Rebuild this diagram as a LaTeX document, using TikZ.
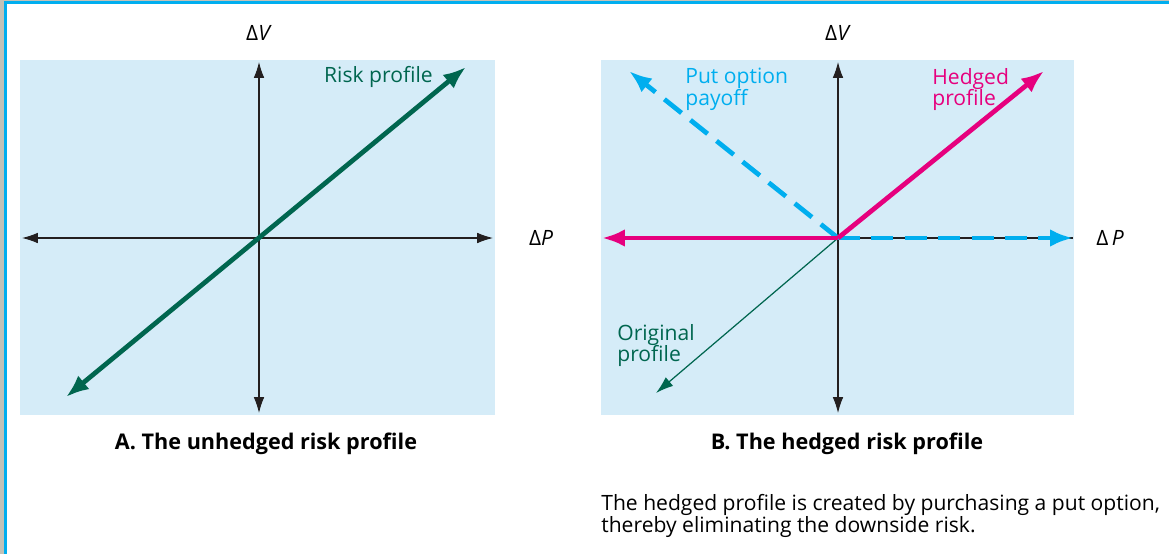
\documentclass[tikz,border=0pt]{standalone}
\usepackage{fontspec}
\setmainfont{Open Sans}
\usetikzlibrary{arrows.meta,positioning}

\definecolor{panelblue}{HTML}{D5ECF8}
\definecolor{riskgreen}{HTML}{00664F}
\definecolor{hedgepink}{HTML}{E6007E}
\definecolor{putcyan}{HTML}{00AEEF}
\definecolor{axisblack}{HTML}{231F20}
\definecolor{framegray}{HTML}{C2C2B8}

\begin{document}
\begin{tikzpicture}[
  x=0.02cm, y=-0.02cm,
  panel/.style={fill=panelblue, draw=none},
  axis/.style={{Latex[length=9pt,width=6pt]}-{Latex[length=9pt,width=6pt]},
               line width=0.6pt, draw=axisblack},
  thickarr/.style={-{Latex[length=13pt,width=10pt]}, line width=2.7pt},
  lbl/.style={inner sep=0pt, font=\fontsize{12}{12.2}\selectfont,
              align=left},
  captiontext/.style={inner sep=0pt, font=\fontsize{12.3}{14}\selectfont\bfseries}
]
\useasboundingbox (0,0) rectangle (1169,554);
% frame
\fill[framegray] (0,0) rectangle (4,554);
\fill[framegray] (0,0) rectangle (1169,1);
\fill[putcyan] (4,1) rectangle (7,554);
\fill[putcyan] (4,1) rectangle (1169,4);

% panel A
\fill[panel] (20,60) rectangle (495,415);
\coordinate (oA) at (259,238);
\coordinate (topA) at (259,62);
\coordinate (botA) at (259,413);
\coordinate (leftA) at (22,238);
\coordinate (rightA) at (493,238);
\draw[axis] (botA) -- (topA);
\draw[axis] (leftA) -- (rightA);
\node[lbl] (dvA) at (259,33) {Δ\textit{V}};
\node[lbl] (dpA) at (541,238) {Δ\textit{P}};
\coordinate (riskend) at (466,67);
\coordinate (riskstart) at (66,397);
\draw[thickarr, riskgreen, {Latex[length=13pt,width=10pt]}-{Latex[length=13pt,width=10pt]}]
  (riskstart) -- (riskend);
\node[lbl, text=riskgreen, anchor=east] (risklbl) at (433,77) {Risk profile};
\node[captiontext] (capA) at (266,444) {A. The unhedged risk profile};

% panel B
\fill[panel] (601,60) rectangle (1074,415);
\coordinate (oB) at (838,238);
\coordinate (topB) at (838,62);
\coordinate (botB) at (838,413);
\coordinate (leftB) at (602,238);
\coordinate (rightB) at (1073,238);
\draw[axis] (botB) -- (topB);
\draw[line width=0.6pt, axisblack] (oB) -- (rightB);
\node[lbl] (dvB) at (838,33) {Δ\textit{V}};
\node[lbl] (dpB) at (1110,238) {Δ\,\textit{P}};
% original profile
\coordinate (origend) at (656,393);
\draw[-{Latex[length=10pt,width=6.5pt]}, line width=0.7pt, riskgreen] (oB) -- (origend);
\node[lbl, text=riskgreen, anchor=north west] (origlbl) at (617,324) {Original\\profile};
% put option payoff
\coordinate (putend) at (629,71);
\draw[thickarr, putcyan, dash pattern=on 12.5pt off 6.5pt] (oB) -- (putend);
\draw[thickarr, putcyan, dash pattern=on 12.5pt off 6.5pt] (oB) -- (rightB);
\node[lbl, text=putcyan, anchor=north west] (putlbl) at (685,68) {Put option\\payoff};
% hedged profile
\coordinate (hedgeend) at (1044,71);
\draw[thickarr, hedgepink] (oB) -- (hedgeend);
\draw[thickarr, hedgepink] (oB) -- (leftB);
\node[lbl, text=hedgepink, anchor=north west] (hedgelbl) at (932,68) {Hedged\\profile};
\node[captiontext] (capB) at (847,444) {B. The hedged risk profile};

\node[lbl, anchor=north west, font=\fontsize{12}{12.6}\selectfont] (note) at (601,494)
  {The hedged profile is created by purchasing a put option,\\thereby eliminating the downside risk.};
\end{tikzpicture}
\end{document}
